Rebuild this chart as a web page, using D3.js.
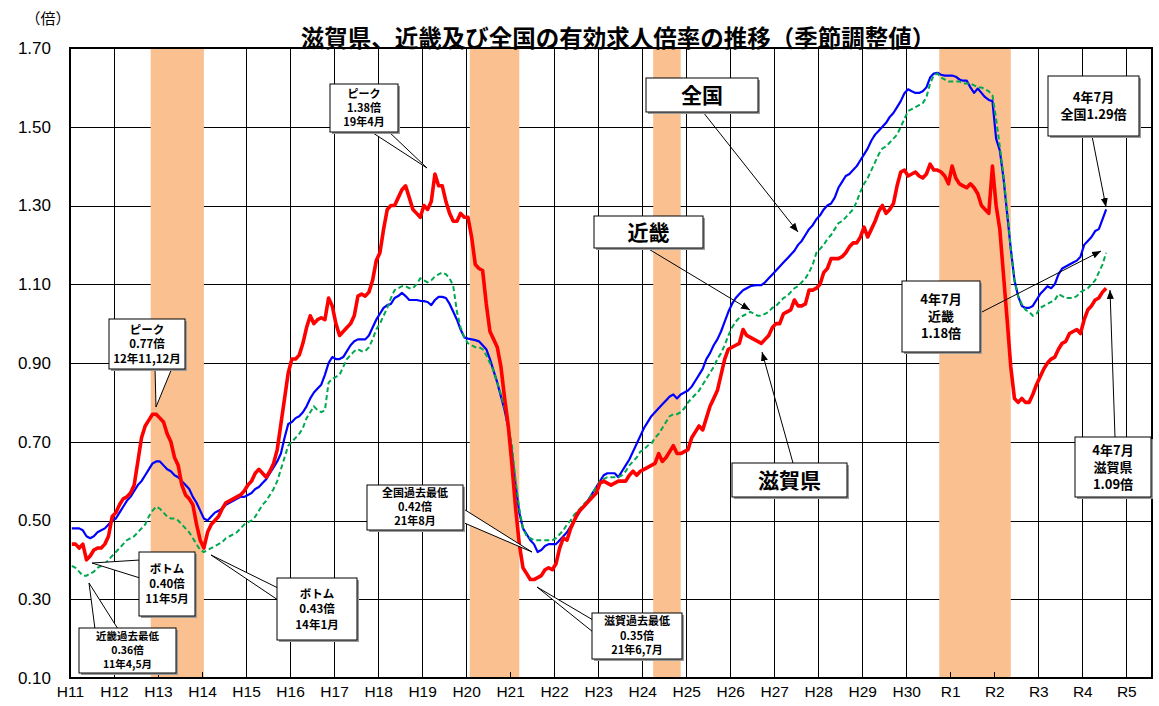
<!DOCTYPE html>
<html><head><meta charset="utf-8">
<script src="https://cdn.jsdelivr.net/npm/d3@7"></script>
<style>
html,body{margin:0;padding:0;background:#fff;}
svg{display:block;}
</style></head>
<body>
<svg id="chart" width="1159" height="706"></svg>
<script>
// ---- data (monthly, seasonally adjusted), Jan 1999 (H11.1) .. Jul 2022 (R4.7)
const xLabels = ["H11","H12","H13","H14","H15","H16","H17","H18","H19","H20","H21","H22","H23","H24","H25","H26","H27","H28","H29","H30","R1","R2","R3","R4","R5"];
const yTicks = [0.10,0.30,0.50,0.70,0.90,1.10,1.30,1.50,1.70];
const seriesNames = ["滋賀県","近畿","全国"];
// recession periods [start "YYYY-MM", end "YYYY-MM"]
const recessions = [["2000-11","2002-01"],["2008-02","2009-03"],["2012-04","2012-11"],["2018-10","2020-05"]];

const shiga = [
 0.44,0.44,0.43,0.44,0.40,0.41,0.425,0.43,0.43,0.44,0.46,0.51,
 0.52,0.54,0.555,0.56,0.57,0.59,0.65,0.71,0.74,0.755,0.77,0.77,
 0.76,0.75,0.72,0.70,0.66,0.64,0.59,0.565,0.555,0.54,0.49,0.45,
 0.43,0.47,0.49,0.50,0.51,0.53,0.545,0.55,0.555,0.56,0.565,0.575,
 0.59,0.60,0.62,0.63,0.62,0.61,0.625,0.645,0.68,0.745,0.81,0.875,
 0.91,0.91,0.92,0.95,0.99,1.02,1.00,1.01,1.015,1.01,1.065,1.045,
 1.00,0.97,0.98,0.99,1.00,1.02,1.07,1.075,1.07,1.08,1.11,1.16,
 1.18,1.24,1.29,1.30,1.30,1.32,1.34,1.35,1.32,1.29,1.28,1.27,
 1.30,1.29,1.31,1.38,1.35,1.35,1.31,1.28,1.26,1.26,1.28,1.27,
 1.27,1.22,1.15,1.14,1.135,1.05,0.98,0.96,0.94,0.89,0.81,0.74,
 0.64,0.53,0.44,0.38,0.365,0.35,0.35,0.355,0.36,0.375,0.38,0.375,
 0.39,0.43,0.455,0.45,0.48,0.50,0.52,0.53,0.54,0.55,0.56,0.57,
 0.595,0.60,0.595,0.59,0.595,0.60,0.60,0.60,0.615,0.625,0.615,0.625,
 0.63,0.635,0.64,0.645,0.67,0.65,0.66,0.675,0.69,0.67,0.67,0.675,
 0.68,0.71,0.725,0.74,0.73,0.76,0.79,0.81,0.83,0.87,0.91,0.935,
 0.94,0.945,0.95,0.985,0.97,0.965,0.96,0.955,0.95,0.96,0.97,0.99,
 1.00,1.00,1.025,1.03,1.035,1.06,1.045,1.045,1.05,1.085,1.085,1.09,
 1.10,1.13,1.14,1.165,1.165,1.165,1.17,1.18,1.195,1.205,1.205,1.22,
 1.245,1.22,1.24,1.26,1.285,1.30,1.28,1.29,1.305,1.35,1.385,1.39,
 1.375,1.38,1.385,1.375,1.37,1.38,1.405,1.39,1.39,1.385,1.375,1.355,
 1.40,1.37,1.355,1.35,1.345,1.355,1.345,1.33,1.30,1.29,1.28,1.40,
 1.30,1.24,1.125,1.01,0.89,0.81,0.80,0.81,0.80,0.80,0.82,0.845,
 0.865,0.885,0.90,0.91,0.915,0.935,0.95,0.955,0.975,0.98,0.985,0.975,
 1.01,1.035,1.045,1.06,1.065,1.08,1.09
];
const kinki = [
 0.385,0.38,0.37,0.36,0.36,0.365,0.37,0.38,0.385,0.39,0.40,0.41,
 0.42,0.43,0.44,0.45,0.455,0.46,0.47,0.48,0.49,0.51,0.525,0.535,
 0.53,0.52,0.51,0.505,0.505,0.50,0.49,0.48,0.47,0.455,0.44,0.425,
 0.42,0.425,0.43,0.435,0.44,0.445,0.455,0.46,0.465,0.47,0.48,0.49,
 0.495,0.50,0.51,0.525,0.54,0.55,0.565,0.58,0.60,0.63,0.66,0.69,
 0.70,0.71,0.72,0.735,0.76,0.775,0.79,0.78,0.775,0.78,0.85,0.86,
 0.865,0.87,0.89,0.91,0.92,0.93,0.935,0.93,0.93,0.94,0.96,0.985,
 1.00,1.02,1.04,1.065,1.085,1.09,1.095,1.095,1.09,1.09,1.10,1.115,
 1.11,1.105,1.11,1.12,1.125,1.13,1.125,1.115,1.095,1.03,0.99,0.965,
 0.95,0.945,0.94,0.94,0.935,0.92,0.90,0.88,0.85,0.82,0.785,0.74,
 0.69,0.60,0.53,0.48,0.46,0.455,0.45,0.45,0.45,0.45,0.45,0.45,
 0.455,0.465,0.475,0.49,0.50,0.515,0.525,0.535,0.545,0.555,0.57,0.585,
 0.60,0.605,0.61,0.61,0.61,0.61,0.615,0.625,0.64,0.65,0.66,0.675,
 0.68,0.69,0.695,0.71,0.72,0.735,0.75,0.765,0.77,0.77,0.775,0.785,
 0.80,0.81,0.82,0.83,0.845,0.86,0.875,0.89,0.91,0.925,0.945,0.97,
 0.99,1.005,1.015,1.02,1.025,1.03,1.025,1.02,1.02,1.025,1.03,1.04,
 1.045,1.055,1.065,1.07,1.08,1.09,1.095,1.105,1.115,1.13,1.15,1.18,
 1.19,1.20,1.215,1.225,1.24,1.255,1.26,1.27,1.28,1.29,1.31,1.335,
 1.355,1.37,1.39,1.41,1.43,1.445,1.45,1.46,1.47,1.48,1.50,1.52,
 1.54,1.545,1.55,1.555,1.56,1.575,1.61,1.63,1.635,1.625,1.62,1.615,
 1.615,1.615,1.615,1.61,1.61,1.61,1.605,1.60,1.60,1.595,1.59,1.58,
 1.52,1.45,1.375,1.29,1.19,1.11,1.07,1.05,1.035,1.03,1.02,1.025,
 1.04,1.045,1.05,1.055,1.06,1.075,1.07,1.065,1.065,1.065,1.07,1.08,
 1.085,1.09,1.10,1.11,1.13,1.15,1.18
];
const zenkoku = [
 0.48,0.48,0.48,0.475,0.46,0.455,0.46,0.47,0.475,0.48,0.49,0.50,
 0.505,0.52,0.535,0.55,0.56,0.575,0.59,0.60,0.615,0.63,0.645,0.65,
 0.65,0.64,0.63,0.625,0.615,0.61,0.60,0.59,0.58,0.56,0.545,0.525,
 0.505,0.50,0.51,0.52,0.525,0.53,0.54,0.545,0.55,0.555,0.56,0.56,
 0.565,0.57,0.58,0.585,0.595,0.605,0.62,0.635,0.65,0.67,0.71,0.745,
 0.75,0.76,0.765,0.775,0.79,0.81,0.825,0.835,0.845,0.87,0.90,0.915,
 0.91,0.91,0.915,0.93,0.945,0.955,0.96,0.96,0.96,0.97,0.99,1.01,
 1.025,1.04,1.047,1.05,1.065,1.07,1.078,1.07,1.06,1.06,1.06,1.058,
 1.057,1.055,1.047,1.06,1.068,1.068,1.065,1.05,1.03,1.01,0.985,0.965,
 0.962,0.96,0.958,0.955,0.945,0.935,0.91,0.88,0.85,0.815,0.78,0.735,
 0.67,0.59,0.52,0.48,0.465,0.45,0.44,0.42,0.425,0.435,0.44,0.44,
 0.44,0.45,0.46,0.47,0.485,0.50,0.515,0.53,0.54,0.555,0.57,0.585,
 0.60,0.615,0.62,0.62,0.62,0.61,0.625,0.64,0.655,0.675,0.695,0.715,
 0.735,0.75,0.765,0.775,0.785,0.795,0.805,0.815,0.82,0.81,0.82,0.825,
 0.83,0.84,0.855,0.87,0.885,0.91,0.925,0.945,0.96,0.98,1.005,1.03,
 1.05,1.065,1.075,1.085,1.09,1.095,1.097,1.098,1.098,1.105,1.115,1.125,
 1.135,1.145,1.155,1.165,1.175,1.185,1.20,1.21,1.225,1.24,1.25,1.265,
 1.275,1.29,1.30,1.305,1.32,1.345,1.36,1.375,1.38,1.39,1.40,1.415,
 1.43,1.445,1.465,1.48,1.49,1.50,1.51,1.525,1.535,1.55,1.565,1.585,
 1.595,1.59,1.586,1.586,1.59,1.60,1.625,1.635,1.637,1.632,1.63,1.63,
 1.63,1.627,1.62,1.617,1.617,1.60,1.586,1.597,1.586,1.575,1.568,1.565,
 1.47,1.44,1.37,1.28,1.19,1.11,1.07,1.045,1.04,1.04,1.045,1.06,
 1.075,1.085,1.095,1.09,1.10,1.125,1.14,1.145,1.15,1.155,1.16,1.17,
 1.20,1.21,1.22,1.235,1.24,1.265,1.29
];

// ---- layout
const W = 1159, H = 706;
const plot = {left: 70, right: 1152, top: 48, bottom: 678};
const svg = d3.select("#chart");
svg.append("rect").attr("width",W).attr("height",H).attr("fill","#fff");

const x = d3.scaleLinear().domain([0, 295]).range([plot.left, plot.right]);
const y = d3.scaleLinear().domain([0.10, 1.70]).range([plot.bottom, plot.top]);
const monthIdx = s => { const [yy, mm] = s.split("-").map(Number); return (yy-1999)*12 + (mm-1); };

const JP = "'Noto Sans CJK JP','Noto Sans CJK SC',sans-serif";
const LAT = "'Liberation Sans',Arial,sans-serif";

// grid (drawn first, shading covers it)
const g = svg.append("g");
const yGrid = d3.axisLeft(y).tickValues(yTicks).tickSize(-(plot.right-plot.left)).tickFormat("");
g.append("g").attr("transform",`translate(${plot.left},0)`).call(yGrid)
  .call(s=>s.select(".domain").remove())
  .call(s=>s.selectAll("line").attr("stroke","#000").attr("stroke-width",1).attr("shape-rendering","crispEdges"));
const yearTicks = xLabels.map((d,i)=>i*12);
const xGrid = d3.axisBottom(x).tickValues(yearTicks).tickSize(-(plot.bottom-plot.top)).tickFormat("");
g.append("g").attr("transform",`translate(0,${plot.bottom})`).call(xGrid)
  .call(s=>s.select(".domain").remove())
  .call(s=>s.selectAll("line").attr("stroke","#000").attr("stroke-width",1).attr("shape-rendering","crispEdges"));

// recession shading
svg.append("g").selectAll("rect").data(recessions).join("rect")
  .attr("x", d=>x(monthIdx(d[0])))
  .attr("width", d=>x(monthIdx(d[1])+0.5)-x(monthIdx(d[0])))
  .attr("y", plot.top).attr("height", plot.bottom-plot.top)
  .attr("fill","#FAC090");

// small inner ticks on bottom axis
const xTickAxis = d3.axisBottom(x).tickValues(yearTicks).tickSize(-6).tickFormat("");
svg.append("g").attr("transform",`translate(0,${plot.bottom})`).call(xTickAxis)
  .call(s=>s.select(".domain").remove())
  .call(s=>s.selectAll("line").attr("stroke","#000").attr("shape-rendering","crispEdges"));

// frame
svg.append("rect").attr("x",plot.left).attr("y",plot.top)
  .attr("width",plot.right-plot.left).attr("height",plot.bottom-plot.top)
  .attr("fill","none").attr("stroke","#000").attr("stroke-width",2);

// axis labels
const yAxis = d3.axisLeft(y).tickValues(yTicks).tickSize(0).tickPadding(19).tickFormat(d3.format(".2f"));
svg.append("g").attr("transform",`translate(${plot.left},0)`).call(yAxis)
  .call(s=>s.select(".domain").remove())
  .call(s=>s.selectAll("text").attr("font-family",LAT).attr("font-size",17).attr("fill","#000"));
const xAxis = d3.axisBottom(x).tickValues(yearTicks).tickSize(0).tickPadding(8).tickFormat((d,i)=>xLabels[i]);
svg.append("g").attr("transform",`translate(0,${plot.bottom})`).call(xAxis)
  .call(s=>s.select(".domain").remove())
  .call(s=>s.selectAll("text").attr("font-family",LAT).attr("font-size",15.5).attr("fill","#000"));

svg.append("text").attr("x",48).attr("y",24).attr("text-anchor","middle")
  .attr("font-family",JP).attr("font-size",15).text("（倍）");

svg.append("text").attr("x",618).attr("y",47).attr("text-anchor","middle")
  .attr("font-family",JP).attr("font-weight","bold").attr("font-size",23.5)
  .text("滋賀県、近畿及び全国の有効求人倍率の推移（季節調整値）");

// lines
const line = d3.line().x((d,i)=>x(i+0.5)).y(d=>y(d));
svg.append("path").datum(zenkoku).attr("d",line).attr("fill","none")
  .attr("stroke","#0000FF").attr("stroke-width",2.2).attr("stroke-linejoin","round");
svg.append("path").datum(kinki).attr("d",line).attr("fill","none")
  .attr("stroke","#00A850").attr("stroke-width",2).attr("stroke-dasharray","5,3");
svg.append("path").datum(shiga).attr("d",line).attr("fill","none")
  .attr("stroke","#FF0000").attr("stroke-width",3.6).attr("stroke-linejoin","round");

// annotations
const ann = svg.append("g");
function box(b){
  ann.append("rect").attr("x",b.x+2).attr("y",b.y+2).attr("width",b.w).attr("height",b.h).attr("fill","#9a9a9a");
  ann.append("rect").attr("x",b.x).attr("y",b.y).attr("width",b.w).attr("height",b.h)
     .attr("fill","#fff").attr("stroke","#000").attr("stroke-width",1);
  const n = b.lines.length;
  b.lines.forEach((t,i)=>{
    ann.append("text").attr("x",b.x+b.w/2)
      .attr("y",b.y+b.h/2 + (i-(n-1)/2)*b.lh)
      .attr("dy","0.36em").attr("text-anchor","middle")
      .attr("font-family",JP).attr("font-weight","bold").attr("font-size",b.fs).text(t);
  });
}
function wedge(p1,p2,tip){
  ann.append("path").attr("d",`M${p1[0]},${p1[1]}L${tip[0]},${tip[1]}L${p2[0]},${p2[1]}Z`)
    .attr("fill","#fff").attr("stroke","#000").attr("stroke-width",1);
}
svg.append("defs").append("marker").attr("id","ah").attr("viewBox","0 0 10 10")
  .attr("refX",10).attr("refY",5).attr("markerWidth",9).attr("markerHeight",9).attr("orient","auto")
  .append("path").attr("d","M0,1L10,5L0,9Z").attr("fill","#000");
function arrow(a,b){
  ann.append("line").attr("x1",a[0]).attr("y1",a[1]).attr("x2",b[0]).attr("y2",b[1])
    .attr("stroke","#000").attr("stroke-width",1).attr("marker-end","url(#ah)");
}

// callouts
wedge([155,368],[172,368],[156,407]);
box({x:109,y:319,w:76,h:50,lines:["ピーク","0.77倍","12年11,12月"],fs:11.5,lh:14.5});

wedge([140,560],[140,578],[92,563]);
box({x:139,y:552,w:56,h:64,lines:["ボトム","0.40倍","11年5月"],fs:11.5,lh:15});

wedge([95,629],[118,629],[89,583]);
box({x:79,y:628,w:97,h:45,lines:["近畿過去最低","0.36倍","11年4,5月"],fs:10.5,lh:14});

wedge([278,588],[278,600],[211,555]);
box({x:277,y:578,w:80,h:62,lines:["ボトム","0.43倍","14年1月"],fs:11.5,lh:15.5});

wedge([370,131],[388,131],[427,168]);
box({x:330,y:84,w:68,h:48,lines:["ピーク","1.38倍","19年4月"],fs:11,lh:14});

wedge([462,508],[462,522],[532,552]);
box({x:367,y:485,w:96,h:45,lines:["全国過去最低","0.42倍","21年8月"],fs:11,lh:14});

wedge([593,620],[593,632],[537,587]);
box({x:592,y:613,w:90,h:46,lines:["滋賀過去最低","0.35倍","21年6,7月"],fs:11,lh:14.5});

// series labels with arrows
arrow([703,112],[798,232]);
box({x:646,y:78,w:112,h:34,lines:["全国"],fs:21,lh:22});
arrow([647,248],[750,310]);
box({x:594,y:216,w:109,h:32,lines:["近畿"],fs:21,lh:22});
arrow([793,463],[762,352]);
box({x:732,y:463,w:115,h:34,lines:["滋賀県"],fs:21,lh:22});

arrow([1092,136],[1106,207]);
box({x:1048,y:76,w:91,h:60,lines:["4年7月","全国1.29倍"],fs:13,lh:17});
arrow([980,313],[1101,251]);
box({x:902,y:281,w:78,h:71,lines:["4年7月","近畿","1.18倍"],fs:13,lh:17});
arrow([1115,437],[1110,290]);
box({x:1075,y:437,w:76,h:60,lines:["4年7月","滋賀県","1.09倍"],fs:13,lh:17});
</script>
</body></html>
